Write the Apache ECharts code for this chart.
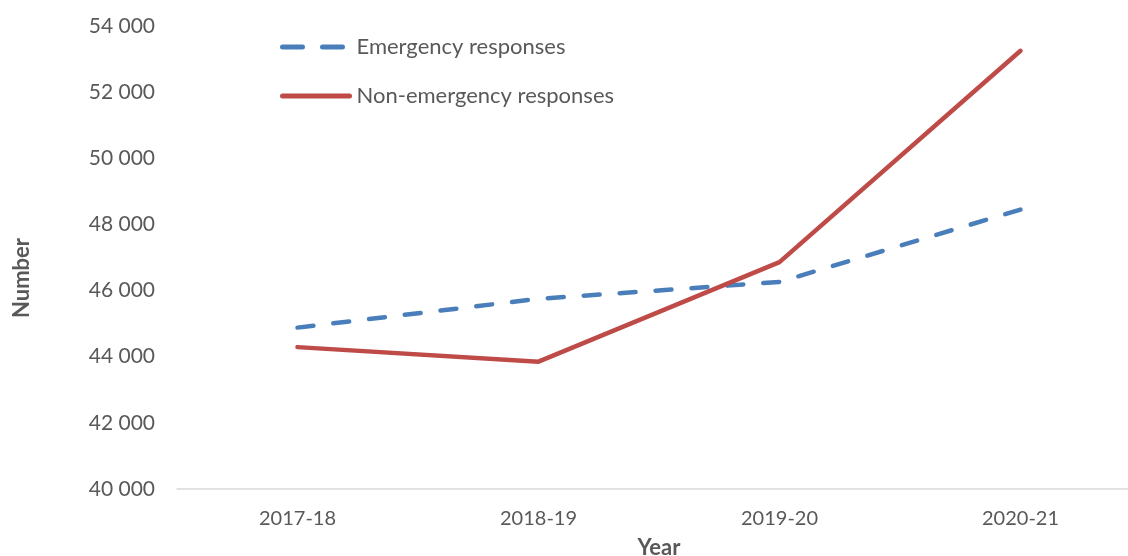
<!DOCTYPE html>
<html>
<head>
<meta charset="utf-8">
<style>
  html, body { margin: 0; padding: 0; background: #ffffff; }
  #chart { width: 1128px; height: 556px; }
</style>
<script src="https://cdn.jsdelivr.net/npm/echarts@6/dist/echarts.min.js"></script>
</head>
<body>
<div id="chart"></div>
<script>
// Responses per year
const years = ['2017-18', '2018-19', '2019-20', '2020-21'];
const emergency = [44880, 45750, 46260, 48450];
const nonEmergency = [44290, 43850, 46860, 53250];
const seriesNames = ['Emergency responses', 'Non-emergency responses'];
const yMin = 40000, yMax = 54000, yStep = 2000;

const FONT = 'Lato, "Open Sans", sans-serif';
const TEXT = '#595959';
const BLUE = '#4a7ebb';
const RED = '#be4b48';

const chart = echarts.init(document.getElementById('chart'), null, { renderer: 'canvas' });

// thousands separated by a space
const fmt = v => String(v).replace(/\B(?=(\d{3})+(?!\d))/g, ' ');

chart.setOption({
  animation: false,
  backgroundColor: '#ffffff',
  grid: {
    left: 177, right: -13, top: 26, bottom: 67,
    containLabel: false,
    outerBoundsMode: 'none'
  },
  legend: {
    left: 275,
    top: 31,
    orient: 'vertical',
    itemWidth: 67,
    itemHeight: 16,
    itemGap: 27,
    textStyle: { fontFamily: FONT, fontSize: 22, color: TEXT, padding: [0, 0, 0, 2] },
    data: [
      { name: seriesNames[0], itemStyle: { opacity: 0 }, lineStyle: { color: BLUE, width: 5, type: [20, 20], cap: 'round' } },
      { name: seriesNames[1], itemStyle: { opacity: 0 }, lineStyle: { color: RED, width: 5, cap: 'round' } }
    ]
  },
  xAxis: {
    type: 'category',
    data: years,
    boundaryGap: true,
    name: 'Year',
    nameLocation: 'middle',
    nameGap: 48,
    nameTextStyle: { fontFamily: FONT, fontSize: 22, fontWeight: 'bold', color: TEXT },
    axisLine: { lineStyle: { color: '#d9d9d9', width: 1.5 } },
    axisTick: { show: false },
    axisLabel: { fontFamily: FONT, fontSize: 20, color: TEXT, margin: 20 },
    splitLine: { show: false }
  },
  yAxis: {
    type: 'value',
    min: yMin,
    max: yMax,
    interval: yStep,
    axisLine: { show: false },
    axisTick: { show: false },
    splitLine: { show: false },
    axisLabel: { fontFamily: FONT, fontSize: 21, color: TEXT, margin: 22, formatter: fmt }
  },
  graphic: [{
    type: 'text',
    x: 22,
    y: 278,
    rotation: Math.PI / 2,
    style: {
      text: 'Number',
      fontFamily: FONT,
      fontSize: 22,
      fontWeight: 'bold',
      fill: TEXT,
      align: 'center',
      verticalAlign: 'middle'
    }
  }],
  series: [
    {
      name: seriesNames[0],
      type: 'line',
      data: emergency,
      symbol: 'none',
      lineStyle: { color: BLUE, width: 4.5, type: [16, 20], cap: 'round' },
      itemStyle: { color: BLUE }
    },
    {
      name: seriesNames[1],
      type: 'line',
      data: nonEmergency,
      symbol: 'none',
      lineStyle: { color: RED, width: 4.5, cap: 'round', join: 'round' },
      itemStyle: { color: RED }
    }
  ]
});
</script>
</body>
</html>
